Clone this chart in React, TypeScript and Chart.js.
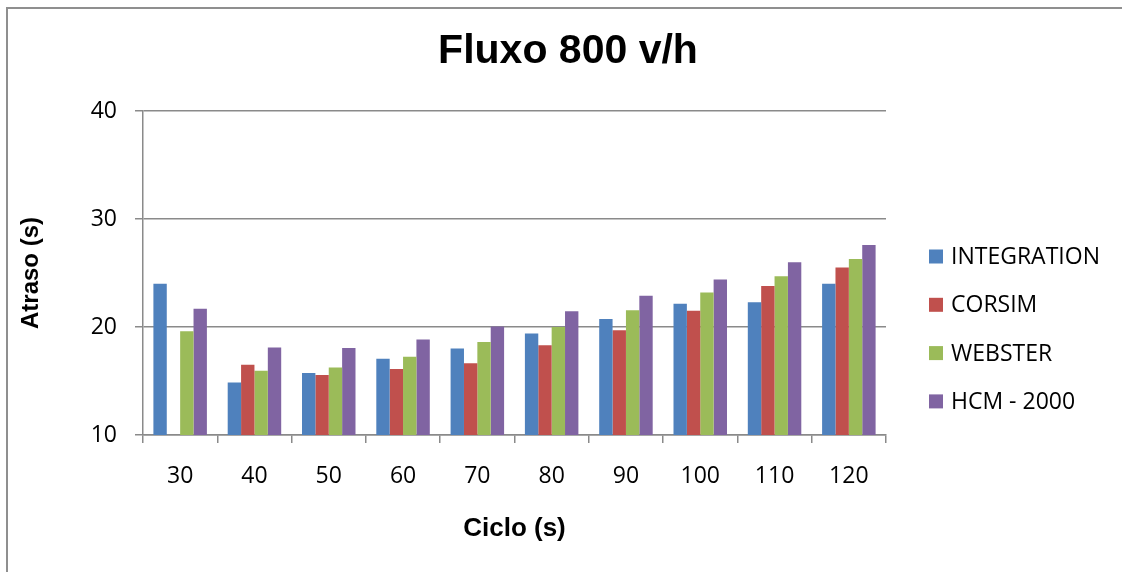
import React, { useEffect, useRef } from "react";
import { Chart, registerables } from "chart.js";

Chart.register(...registerables);

const chartTitle = "Fluxo 800 v/h";
const xAxisTitle = "Ciclo (s)";
const yAxisTitle = "Atraso (s)";

const ciclos = ["30", "40", "50", "60", "70", "80", "90", "100", "110", "120"];

const integration = [24.0, 14.85, 15.75, 17.05, 18.0, 19.4, 20.75, 22.15, 22.3, 24.0];
const corsim = [null, 16.5, 15.55, 16.1, 16.65, 18.3, 19.7, 21.5, 23.8, 25.5];
const webster = [19.6, 15.95, 16.25, 17.25, 18.6, 20.0, 21.55, 23.2, 24.7, 26.3];
const hcm2000 = [21.7, 18.1, 18.05, 18.85, 20.05, 21.45, 22.9, 24.4, 26.0, 27.6];

const seriesNames = ["INTEGRATION", "CORSIM", "WEBSTER", "HCM - 2000"];
const seriesColors = ["#4F81BD", "#C0504D", "#9BBB59", "#8064A2"];

const yMin = 10;
const yMax = 40;
const yStep = 10;

const W = 1122;
const H = 572;
const gridColor = "#8a8a8a";
const tickFont = { family: "'Open Sans', sans-serif", size: 23 };

// Frame, title and legend drawn around the plot area
const decorations = {
  id: "decorations",
  beforeDraw(chart: any) {
    const { ctx } = chart;
    ctx.save();
    ctx.fillStyle = "#ffffff";
    ctx.fillRect(0, 0, W, H);
    ctx.strokeStyle = "#8f8f8f";
    ctx.lineWidth = 2;
    ctx.strokeRect(7, 8, 1200, 700);
    ctx.restore();
  },
  afterDraw(chart: any) {
    const { ctx } = chart;
    ctx.save();
    ctx.fillStyle = "#000000";
    ctx.textAlign = "center";
    ctx.textBaseline = "middle";
    ctx.font = "bold 41px 'Liberation Sans', Arial, sans-serif";
    ctx.fillText(chartTitle, 568, 52);

    ctx.textAlign = "left";
    ctx.font = "23px 'Open Sans', sans-serif";
    chart.data.datasets.forEach((ds: any, i: number) => {
      const cy = 256.5 + i * 48.3;
      ctx.fillStyle = ds.backgroundColor;
      ctx.fillRect(929, cy - 7, 14, 14);
      ctx.fillStyle = "#000000";
      ctx.fillText(ds.label, 951, cy + 1);
    });
    ctx.restore();
  },
};

export default function App() {
  const canvasRef = useRef<HTMLCanvasElement | null>(null);

  useEffect(() => {
    const canvas = canvasRef.current;
    if (!canvas) return;
    const seriesData = [integration, corsim, webster, hcm2000];
    const chart = new Chart(canvas, {
      type: "bar",
      data: {
        labels: ciclos,
        datasets: seriesData.map((d, i) => ({
          label: seriesNames[i],
          data: d,
          backgroundColor: seriesColors[i],
          borderWidth: 0,
          categoryPercentage: 0.72,
          barPercentage: 1.0,
        })),
      },
      options: {
        animation: false,
        responsive: false,
        maintainAspectRatio: false,
        layout: { padding: { left: 0, top: 111, right: 236, bottom: 0 } },
        plugins: {
          legend: { display: false },
          title: { display: false },
          tooltip: { enabled: false },
        },
        scales: {
          x: {
            grid: {
              display: true,
              drawOnChartArea: false,
              drawTicks: true,
              tickLength: 8,
              color: gridColor,
              lineWidth: 1.5,
              offset: true,
            },
            border: { display: true, color: gridColor, width: 1.5 },
            ticks: { color: "#000000", font: tickFont, padding: 20 },
            title: {
              display: true,
              text: xAxisTitle,
              color: "#000000",
              font: { family: "'Liberation Sans', Arial, sans-serif", size: 26, weight: "bold" },
              padding: { top: 0, bottom: 28 },
            },
            afterFit(scale: any) {
              scale.height = 137;
            },
          },
          y: {
            min: yMin,
            max: yMax,
            ticks: { stepSize: yStep, color: "#000000", font: tickFont, padding: 18 },
            grid: {
              color: gridColor,
              lineWidth: 1.5,
              tickLength: 8,
            },
            border: { display: true, color: gridColor, width: 1.5 },
            title: {
              display: true,
              text: yAxisTitle,
              color: "#000000",
              font: { family: "'Liberation Sans', Arial, sans-serif", size: 24, weight: "bold" },
              padding: { top: 17, bottom: 0 },
            },
            afterFit(scale: any) {
              scale.width = 143;
            },
          },
        },
      },
      plugins: [decorations],
    });
    return () => chart.destroy();
  }, []);

  return (
    <div style={{ position: "fixed", left: 0, top: 0, width: W, height: H, overflow: "hidden", background: "#fff" }}>
      <canvas ref={canvasRef} width={W} height={H} style={{ width: W, height: H, display: "block" }} />
    </div>
  );
}
